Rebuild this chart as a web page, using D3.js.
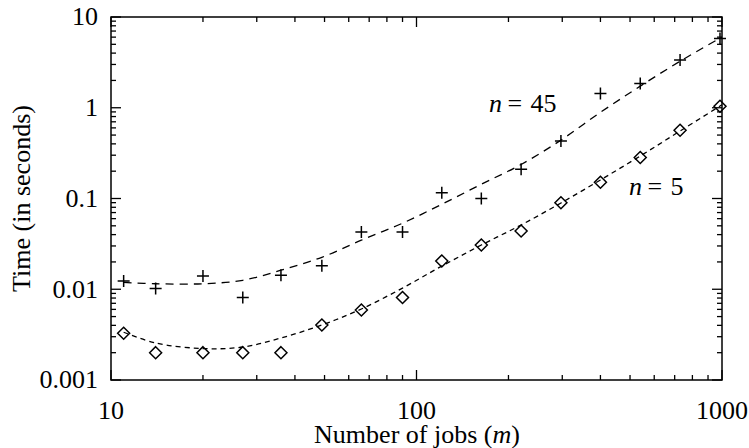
<!DOCTYPE html>
<html><head><meta charset="utf-8">
<script src="https://cdn.jsdelivr.net/npm/d3@7"></script>
<style>
html,body{margin:0;padding:0;background:#fff;}
svg{display:block;}
text{font-family:'Liberation Serif','Times New Roman',Times,'DejaVu Serif','Noto Serif',serif;}
</style></head>
<body>
<svg id="chart" width="749" height="448"></svg>
<script>
// ---- data ----
const jobs = [11, 14, 20, 27, 36, 49, 66, 90, 121, 163, 220, 297, 400, 540, 729, 985];
const timeN45 = [0.0123, 0.0102, 0.0140, 0.0081, 0.0143, 0.0181, 0.0428, 0.0428, 0.116, 0.0998, 0.21, 0.43, 1.44, 1.85, 3.35, 5.8];
const timeN5 = [0.00327, 0.00200, 0.00200, 0.00200, 0.00200, 0.00404, 0.0059, 0.0081, 0.0205, 0.0307, 0.0439, 0.0899, 0.151, 0.283, 0.565, 1.04];
// fitted dashed curves
const fitJobs = [11, 14, 20, 27, 36, 49, 66, 90, 121, 163, 220, 297, 400, 540, 729, 985, 1000];
const fitN45 = [0.0119, 0.0115, 0.0115, 0.01256, 0.0162, 0.0225, 0.0347, 0.0534, 0.0864, 0.1436, 0.237, 0.44, 0.89, 1.73, 3.25, 5.83, 5.98];
const fitN5 = [0.00336, 0.00256, 0.00222, 0.00231, 0.0029, 0.00404, 0.00606, 0.0103, 0.0180, 0.0307, 0.0511, 0.0892, 0.16, 0.294, 0.554, 1.045, 1.08];
const xTickLabels = ["10", "100", "1000"];
const yTickLabels = ["0.001", "0.01", "0.1", "1", "10"];

// ---- layout ----
const FONT = "'Liberation Serif','Times New Roman',Times,'DejaVu Serif','Noto Serif',serif";
const svg = d3.select("#chart").attr("font-family", FONT);
const L = 111, R = 722, T = 17, B = 380;
const x = d3.scaleLog().domain([10, 1000]).range([L, R]);
const y = d3.scaleLog().domain([0.001, 10]).range([B, T]);
const FS = 26;

const xMajor = xTickLabels.map(Number);
const xMinor = [];
for (const d of [10, 100]) for (let k = 2; k <= 9; k++) xMinor.push(d * k);
const yMajor = yTickLabels.map(Number);
const yMinor = [];
for (const d of [0.001, 0.01, 0.1, 1]) for (let k = 2; k <= 9; k++) yMinor.push(+(d * k).toPrecision(3));

const g = svg.append("g");
function hTicks(vals, len) {
  vals.forEach(v => {
    g.append("line").attr("x1", x(v)).attr("x2", x(v)).attr("y1", B).attr("y2", B - len)
      .attr("stroke", "#000").attr("stroke-width", 1.3);
    g.append("line").attr("x1", x(v)).attr("x2", x(v)).attr("y1", T).attr("y2", T + len)
      .attr("stroke", "#000").attr("stroke-width", 1.3);
  });
}
function vTicks(vals, len) {
  vals.forEach(v => {
    g.append("line").attr("y1", y(v)).attr("y2", y(v)).attr("x1", L).attr("x2", L + len)
      .attr("stroke", "#000").attr("stroke-width", 1.3);
    g.append("line").attr("y1", y(v)).attr("y2", y(v)).attr("x1", R).attr("x2", R - len)
      .attr("stroke", "#000").attr("stroke-width", 1.3);
  });
}
hTicks(xMajor, 10); hTicks(xMinor, 5);
vTicks(yMajor, 10); vTicks(yMinor, 5);

g.append("rect").attr("x", L).attr("y", T).attr("width", R - L).attr("height", B - T)
  .attr("fill", "none").attr("stroke", "#000").attr("stroke-width", 1.5);

g.selectAll(".xl").data(xTickLabels).enter().append("text")
  .attr("font-family", FONT)
  .attr("x", d => x(+d)).attr("y", 419).attr("text-anchor", "middle")
  .attr("font-size", FS).text(d => d);
g.selectAll(".yl").data(yTickLabels).enter().append("text")
  .attr("font-family", FONT)
  .attr("x", 98).attr("y", d => y(+d)).attr("dy", "0.32em").attr("text-anchor", "end")
  .attr("font-size", FS).text(d => d);

const xt = g.append("text").attr("font-family", FONT).attr("x", (L + R) / 2 + 0.5).attr("y", 443)
  .attr("text-anchor", "middle").attr("font-size", FS);
xt.append("tspan").text("Number of jobs (");
xt.append("tspan").attr("font-style", "italic").text("m");
xt.append("tspan").text(")");
g.append("text").attr("font-family", FONT).attr("transform", `translate(30,${(T + B) / 2}) rotate(-90)`)
  .attr("text-anchor", "middle").attr("font-size", FS).text("Time (in seconds)");

const line = d3.line().x(d => x(d[0])).y(d => y(d[1])).curve(d3.curveCatmullRom.alpha(0.5));
g.append("path").datum(fitJobs.map((j, i) => [j, fitN45[i]])).attr("d", line)
  .attr("fill", "none").attr("stroke", "#000").attr("stroke-width", 1.3).attr("stroke-dasharray", "8,6");
g.append("path").datum(fitJobs.map((j, i) => [j, fitN5[i]])).attr("d", line)
  .attr("fill", "none").attr("stroke", "#000").attr("stroke-width", 1.3).attr("stroke-dasharray", "5,4");

const s = 6;
g.selectAll(".plus").data(jobs.map((j, i) => [j, timeN45[i]])).enter().append("path")
  .attr("d", d => `M${x(d[0]) - s},${y(d[1])}h${2 * s}M${x(d[0])},${y(d[1]) - s}v${2 * s}`)
  .attr("stroke", "#000").attr("stroke-width", 1.5).attr("fill", "none");
g.selectAll(".dia").data(jobs.map((j, i) => [j, timeN5[i]])).enter().append("path")
  .attr("d", d => `M${x(d[0])},${y(d[1]) - s}l${s},${s}l${-s},${s}l${-s},${-s}z`)
  .attr("stroke", "#000").attr("stroke-width", 1.5).attr("fill", "none");

function lab(tx, ty, num) {
  const t = g.append("text").attr("font-family", FONT).attr("y", ty).attr("font-size", FS);
  t.append("tspan").attr("x", tx).attr("font-style", "italic").text("n");
  t.append("tspan").attr("x", tx + 18.5).text("=");
  t.append("tspan").attr("x", tx + 41.5).text(num);
}
lab(489, 112, "45");
lab(629, 195, "5");
</script>
</body></html>
